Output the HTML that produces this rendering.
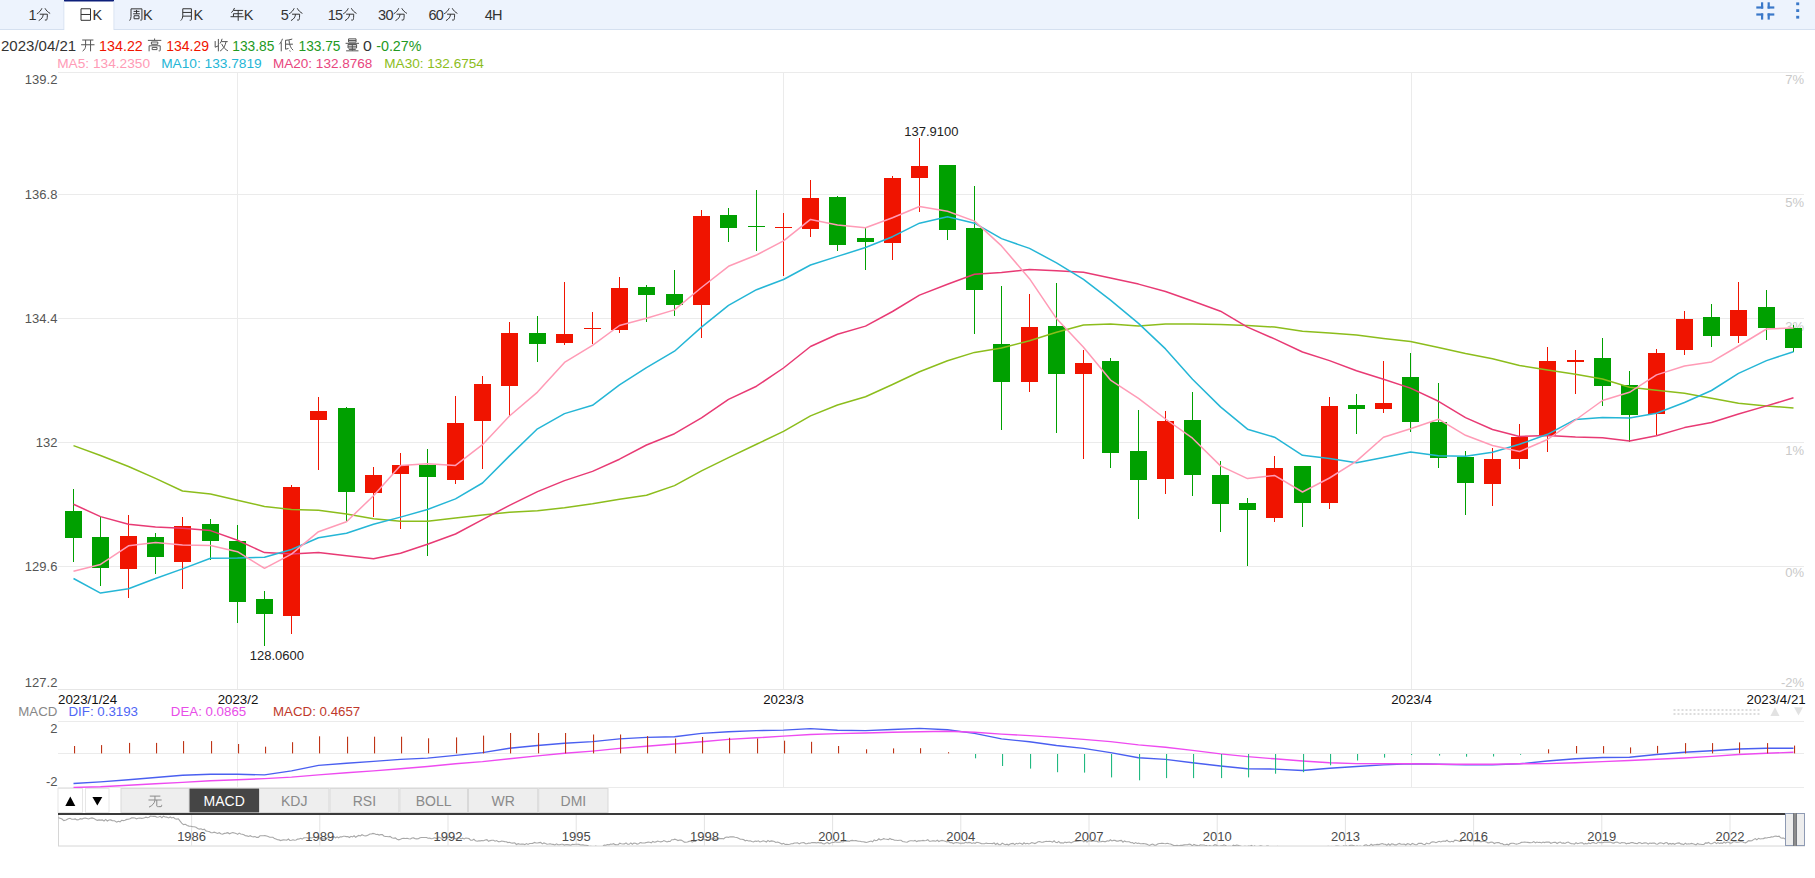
<!DOCTYPE html>
<html><head><meta charset="utf-8"><style>
html,body{margin:0;padding:0;background:#fff;}
body{width:1815px;height:878px;position:relative;overflow:hidden;font-family:"Liberation Sans",sans-serif;}
svg text{font-family:"Liberation Sans",sans-serif;}
</style></head><body>
<svg width="1815" height="878" viewBox="0 0 1815 878" style="position:absolute;left:0;top:0"><rect x="0" y="0" width="1815" height="29" fill="#edf3fd"/><rect x="0" y="29" width="1815" height="1" fill="#d5e0f0"/><rect x="64" y="0" width="50" height="31" fill="#ffffff"/><rect x="64" y="0" width="50" height="1.5" fill="#0d1f7a"/><rect x="63.5" y="1" width="0.8" height="29" fill="#d5e0f0"/><rect x="113.5" y="1" width="0.8" height="29" fill="#d5e0f0"/><text x="28.60" y="20.1" font-size="14.5" fill="#333">1</text><path transform="translate(35.90,7.40) scale(1.0800,0.9700)" d="M5.6,0.9 C4.6,3.2 3.2,5.2 0.9,6.6 M8.4,0.9 C9.6,3.3 11.2,5 13.2,6.2 M3.6,7 H10.6 C10.6,9.5 10.5,11.5 10.2,12.6 C10,13.1 9.3,13.2 8.3,13 M6.8,7 C6.6,10 5.4,12 2.6,13.6" fill="none" stroke="#333" stroke-width="1.0" vector-effect="non-scaling-stroke"/><path transform="translate(78.20,7.40) scale(1.0800,0.9700)" d="M2.6,1.4 H11.4 V13.3 M2.6,1.4 V13.3 H11.4 M2.6,7.3 H11.4" fill="none" stroke="#333" stroke-width="1.0" vector-effect="non-scaling-stroke"/><text x="92.50" y="20.1" font-size="14.5" fill="#333">K</text><path transform="translate(128.65,7.40) scale(1.0800,0.9700)" d="M2.2,1.5 V9.5 C2.2,11.2 1.7,12.4 0.9,13.6 M2.2,1.5 H12.3 V12.4 C12.3,13 12,13.2 10.8,13.1 M4.6,4.1 H10 M7.3,2.6 V6.6 M4.2,6.6 H10.4 M5,8.6 H9.6 V11.7 H5 Z" fill="none" stroke="#333" stroke-width="1.0" vector-effect="non-scaling-stroke"/><text x="142.95" y="20.1" font-size="14.5" fill="#333">K</text><path transform="translate(179.10,7.40) scale(1.0800,0.9700)" d="M3.4,1.4 V8.5 C3.4,10.5 2.8,12.2 1.5,13.6 M3.4,1.4 H11.4 V12.5 C11.4,13.1 11,13.3 9.8,13.2 M3.4,5.2 H11.4 M3.3,9 H11.4" fill="none" stroke="#333" stroke-width="1.0" vector-effect="non-scaling-stroke"/><text x="193.40" y="20.1" font-size="14.5" fill="#333">K</text><path transform="translate(229.55,7.40) scale(1.0800,0.9700)" d="M4.6,0.6 C4,2.4 3,4.2 1.7,5.4 M3.6,3.1 H12.6 M3.6,6.5 H11.8 M3.6,6.5 V9.6 M0.9,9.6 H13.1 M8,3.1 V13.8" fill="none" stroke="#333" stroke-width="1.0" vector-effect="non-scaling-stroke"/><text x="243.85" y="20.1" font-size="14.5" fill="#333">K</text><text x="280.85" y="20.1" font-size="14.5" fill="#333">5</text><path transform="translate(288.15,7.40) scale(1.0800,0.9700)" d="M5.6,0.9 C4.6,3.2 3.2,5.2 0.9,6.6 M8.4,0.9 C9.6,3.3 11.2,5 13.2,6.2 M3.6,7 H10.6 C10.6,9.5 10.5,11.5 10.2,12.6 C10,13.1 9.3,13.2 8.3,13 M6.8,7 C6.6,10 5.4,12 2.6,13.6" fill="none" stroke="#333" stroke-width="1.0" vector-effect="non-scaling-stroke"/><text x="327.65" y="20.1" font-size="14.5" fill="#333">1</text><text x="334.95" y="20.1" font-size="14.5" fill="#333">5</text><path transform="translate(342.25,7.40) scale(1.0800,0.9700)" d="M5.6,0.9 C4.6,3.2 3.2,5.2 0.9,6.6 M8.4,0.9 C9.6,3.3 11.2,5 13.2,6.2 M3.6,7 H10.6 C10.6,9.5 10.5,11.5 10.2,12.6 C10,13.1 9.3,13.2 8.3,13 M6.8,7 C6.6,10 5.4,12 2.6,13.6" fill="none" stroke="#333" stroke-width="1.0" vector-effect="non-scaling-stroke"/><text x="378.10" y="20.1" font-size="14.5" fill="#333">3</text><text x="385.40" y="20.1" font-size="14.5" fill="#333">0</text><path transform="translate(392.70,7.40) scale(1.0800,0.9700)" d="M5.6,0.9 C4.6,3.2 3.2,5.2 0.9,6.6 M8.4,0.9 C9.6,3.3 11.2,5 13.2,6.2 M3.6,7 H10.6 C10.6,9.5 10.5,11.5 10.2,12.6 C10,13.1 9.3,13.2 8.3,13 M6.8,7 C6.6,10 5.4,12 2.6,13.6" fill="none" stroke="#333" stroke-width="1.0" vector-effect="non-scaling-stroke"/><text x="428.55" y="20.1" font-size="14.5" fill="#333">6</text><text x="435.85" y="20.1" font-size="14.5" fill="#333">0</text><path transform="translate(443.15,7.40) scale(1.0800,0.9700)" d="M5.6,0.9 C4.6,3.2 3.2,5.2 0.9,6.6 M8.4,0.9 C9.6,3.3 11.2,5 13.2,6.2 M3.6,7 H10.6 C10.6,9.5 10.5,11.5 10.2,12.6 C10,13.1 9.3,13.2 8.3,13 M6.8,7 C6.6,10 5.4,12 2.6,13.6" fill="none" stroke="#333" stroke-width="1.0" vector-effect="non-scaling-stroke"/><text x="484.75" y="20.1" font-size="14.5" fill="#333">4</text><text x="492.05" y="20.1" font-size="14.5" fill="#333">H</text><g fill="#3a78c9"><rect x="1761" y="2.3" width="2.2" height="6.3"/><rect x="1756.3" y="6.4" width="6.9" height="2.2"/><rect x="1767.6" y="2.3" width="2.2" height="6.3"/><rect x="1767.6" y="6.4" width="6.7" height="2.2"/><rect x="1756.3" y="13.4" width="6.9" height="2.2"/><rect x="1761" y="13.4" width="2.2" height="6.2"/><rect x="1767.6" y="13.4" width="6.7" height="2.2"/><rect x="1767.6" y="13.4" width="2.2" height="6.2"/><rect x="1796.2" y="2.4" width="3" height="2.8"/><rect x="1796.2" y="9.2" width="3" height="2.8"/><rect x="1796.2" y="15.8" width="3" height="2.8"/></g><text x="1.0" y="51.2" font-size="15" fill="#333" textLength="75.1" lengthAdjust="spacingAndGlyphs">2023/04/21</text><path transform="translate(80.10,38.20) scale(1.1000,0.9500)" d="M1.9,1.9 H12.1 M0.9,6.9 H13.1 M5,1.9 V8 C5,10.3 4.2,12 2.3,13.6 M9.5,1.9 V13.8" fill="none" stroke="#555" stroke-width="1.0" vector-effect="non-scaling-stroke"/><text x="99.1" y="51.2" font-size="15" fill="#f01400" textLength="43.7" lengthAdjust="spacingAndGlyphs">134.22</text><path transform="translate(146.90,38.20) scale(1.1000,0.9500)" d="M7,0.3 V2.2 M0.9,2.3 H13.1 M4.1,4 H9.9 V6.4 H4.1 Z M2,8 V13.8 M2,8 H12.1 V12.9 C12.1,13.4 11.6,13.4 10.7,13.3 M4.8,9.7 H9.2 V12 H4.8 Z" fill="none" stroke="#555" stroke-width="1.0" vector-effect="non-scaling-stroke"/><text x="166.3" y="51.2" font-size="15" fill="#f01400" textLength="42.7" lengthAdjust="spacingAndGlyphs">134.29</text><path transform="translate(213.30,38.20) scale(1.1000,0.9500)" d="M4.6,0.8 V13.8 M1.7,3 V9.5 L4.6,8 M8,0.6 C7.6,2.6 7,4.3 6.1,5.6 M7.3,3.6 H13.1 M11.6,3.6 C10.8,8.2 9,11.6 6.2,13.5 M7.6,6 C9,9.5 11,12 13.3,13.3" fill="none" stroke="#555" stroke-width="1.0" vector-effect="non-scaling-stroke"/><text x="232.3" y="51.2" font-size="15" fill="#229922" textLength="42.1" lengthAdjust="spacingAndGlyphs">133.85</text><path transform="translate(278.40,38.20) scale(1.1000,0.9500)" d="M3.7,0.6 C3,3 2,5 0.8,6.4 M2.6,4.3 V13.8 M6.2,2.3 C8.4,2.1 10.6,1.6 12.6,0.9 M6.5,2.3 V11.6 L9.2,10.8 M6.5,6.3 H13.2 M9.6,2 C10,7 11.3,10.8 13.4,12.6 M10,13.1 L11,13.8" fill="none" stroke="#555" stroke-width="1.0" vector-effect="non-scaling-stroke"/><text x="298.5" y="51.2" font-size="15" fill="#229922" textLength="42.0" lengthAdjust="spacingAndGlyphs">133.75</text><path transform="translate(344.60,38.20) scale(1.1000,0.9500)" d="M3.6,0.7 H10.4 V4.1 H3.6 Z M3.6,2.4 H10.4 M0.9,5.4 H13.1 M3.1,6.6 H10.9 V10.3 H3.1 Z M3.1,8.45 H10.9 M7,6.6 V13.2 M3.9,11.8 H10.1 M1.4,13.3 H12.6" fill="none" stroke="#555" stroke-width="1.0" vector-effect="non-scaling-stroke"/><text x="362.9" y="51.2" font-size="15" fill="#333" textLength="8.8" lengthAdjust="spacingAndGlyphs">0</text><text x="376.2" y="51.2" font-size="15" fill="#229922" textLength="45.3" lengthAdjust="spacingAndGlyphs">-0.27%</text><text x="57.2" y="67.8" font-size="13.6" fill="#ff9bb6" textLength="92.8" lengthAdjust="spacingAndGlyphs">MA5: 134.2350</text><text x="161.2" y="67.8" font-size="13.6" fill="#25b6d6" textLength="100.5" lengthAdjust="spacingAndGlyphs">MA10: 133.7819</text><text x="272.9" y="67.8" font-size="13.6" fill="#e8467e" textLength="99.5" lengthAdjust="spacingAndGlyphs">MA20: 132.8768</text><text x="384.3" y="67.8" font-size="13.6" fill="#8cbd1c" textLength="99.5" lengthAdjust="spacingAndGlyphs">MA30: 132.6754</text><rect x="58" y="72" width="1746" height="1" fill="#ebebeb"/><rect x="58" y="194" width="1746" height="1" fill="#ebebeb"/><rect x="58" y="318" width="1746" height="1" fill="#ebebeb"/><rect x="58" y="442" width="1746" height="1" fill="#ebebeb"/><rect x="58" y="566" width="1746" height="1" fill="#ebebeb"/><rect x="58" y="689" width="1746" height="1" fill="#e6e6e6"/><rect x="237" y="72" width="1" height="617" fill="#ebebeb"/><rect x="237" y="721" width="1" height="67" fill="#ebebeb"/><rect x="783" y="72" width="1" height="617" fill="#ebebeb"/><rect x="783" y="721" width="1" height="67" fill="#ebebeb"/><rect x="1411" y="72" width="1" height="617" fill="#ebebeb"/><rect x="1411" y="721" width="1" height="67" fill="#ebebeb"/><text x="57.4" y="83.5" font-size="13" fill="#555" text-anchor="end">139.2</text><text x="57.4" y="199.2" font-size="13" fill="#555" text-anchor="end">136.8</text><text x="57.4" y="322.9" font-size="13" fill="#555" text-anchor="end">134.4</text><text x="57.4" y="446.6" font-size="13" fill="#555" text-anchor="end">132</text><text x="57.4" y="570.6" font-size="13" fill="#555" text-anchor="end">129.6</text><text x="57.4" y="687.4" font-size="13" fill="#555" text-anchor="end">127.2</text><text x="1804" y="84" font-size="13" fill="#c9c9c9" text-anchor="end">7%</text><text x="1804" y="207" font-size="13" fill="#c9c9c9" text-anchor="end">5%</text><text x="1804" y="331" font-size="13" fill="#c9c9c9" text-anchor="end">3%</text><text x="1804" y="455" font-size="13" fill="#c9c9c9" text-anchor="end">1%</text><text x="1804" y="577.3" font-size="13" fill="#c9c9c9" text-anchor="end">0%</text><text x="1804" y="687.4" font-size="13" fill="#c9c9c9" text-anchor="end">-2%</text><rect x="73" y="489" width="1" height="73" fill="#00a000"/><rect x="65" y="511" width="17" height="27" fill="#00a000"/><rect x="100" y="517" width="1" height="69" fill="#00a000"/><rect x="92" y="537" width="17" height="31" fill="#00a000"/><rect x="128" y="515" width="1" height="83" fill="#f01400"/><rect x="120" y="536" width="17" height="33" fill="#f01400"/><rect x="155" y="533" width="1" height="41" fill="#00a000"/><rect x="147" y="537" width="17" height="20" fill="#00a000"/><rect x="182" y="517" width="1" height="72" fill="#f01400"/><rect x="174" y="526" width="17" height="36" fill="#f01400"/><rect x="210" y="519" width="1" height="41" fill="#00a000"/><rect x="202" y="524" width="17" height="17" fill="#00a000"/><rect x="237" y="525" width="1" height="98" fill="#00a000"/><rect x="229" y="541" width="17" height="61" fill="#00a000"/><rect x="264" y="591" width="1" height="55" fill="#00a000"/><rect x="256" y="599" width="17" height="15" fill="#00a000"/><rect x="291" y="485" width="1" height="149" fill="#f01400"/><rect x="283" y="487" width="17" height="129" fill="#f01400"/><rect x="318" y="397" width="1" height="73" fill="#f01400"/><rect x="310" y="411" width="17" height="9" fill="#f01400"/><rect x="346" y="407" width="1" height="115" fill="#00a000"/><rect x="338" y="408" width="17" height="84" fill="#00a000"/><rect x="373" y="467" width="1" height="50" fill="#f01400"/><rect x="365" y="475" width="17" height="18" fill="#f01400"/><rect x="400" y="453" width="1" height="76" fill="#f01400"/><rect x="392" y="465" width="17" height="9" fill="#f01400"/><rect x="427" y="449" width="1" height="107" fill="#00a000"/><rect x="419" y="465" width="17" height="12" fill="#00a000"/><rect x="455" y="396" width="1" height="88" fill="#f01400"/><rect x="447" y="423" width="17" height="57" fill="#f01400"/><rect x="482" y="376" width="1" height="93" fill="#f01400"/><rect x="474" y="384" width="17" height="37" fill="#f01400"/><rect x="509" y="322" width="1" height="94" fill="#f01400"/><rect x="501" y="333" width="17" height="53" fill="#f01400"/><rect x="537" y="316" width="1" height="46" fill="#00a000"/><rect x="529" y="333" width="17" height="11" fill="#00a000"/><rect x="564" y="282" width="1" height="63" fill="#f01400"/><rect x="556" y="334" width="17" height="9" fill="#f01400"/><rect x="592" y="312" width="1" height="32" fill="#f01400"/><rect x="584" y="328" width="17" height="1" fill="#f01400"/><rect x="619" y="277" width="1" height="56" fill="#f01400"/><rect x="611" y="288" width="17" height="42" fill="#f01400"/><rect x="646" y="285" width="1" height="37" fill="#00a000"/><rect x="638" y="287" width="17" height="8" fill="#00a000"/><rect x="674" y="270" width="1" height="46" fill="#00a000"/><rect x="666" y="294" width="17" height="11" fill="#00a000"/><rect x="701" y="210" width="1" height="128" fill="#f01400"/><rect x="693" y="216" width="17" height="89" fill="#f01400"/><rect x="728" y="208" width="1" height="34" fill="#00a000"/><rect x="720" y="215" width="17" height="13" fill="#00a000"/><rect x="756" y="190" width="1" height="61" fill="#00a000"/><rect x="748" y="226" width="17" height="1" fill="#00a000"/><rect x="783" y="213" width="1" height="63" fill="#f01400"/><rect x="775" y="227" width="17" height="1" fill="#f01400"/><rect x="810" y="180" width="1" height="57" fill="#f01400"/><rect x="802" y="198" width="17" height="31" fill="#f01400"/><rect x="837" y="196" width="1" height="55" fill="#00a000"/><rect x="829" y="197" width="17" height="48" fill="#00a000"/><rect x="865" y="228" width="1" height="42" fill="#00a000"/><rect x="857" y="238" width="17" height="4" fill="#00a000"/><rect x="892" y="176" width="1" height="84" fill="#f01400"/><rect x="884" y="178" width="17" height="65" fill="#f01400"/><rect x="919" y="138" width="1" height="74" fill="#f01400"/><rect x="911" y="166" width="17" height="12" fill="#f01400"/><rect x="947" y="165" width="1" height="75" fill="#00a000"/><rect x="939" y="165" width="17" height="65" fill="#00a000"/><rect x="974" y="186" width="1" height="148" fill="#00a000"/><rect x="966" y="228" width="17" height="62" fill="#00a000"/><rect x="1001" y="286" width="1" height="144" fill="#00a000"/><rect x="993" y="344" width="17" height="38" fill="#00a000"/><rect x="1029" y="294" width="1" height="98" fill="#f01400"/><rect x="1021" y="327" width="17" height="55" fill="#f01400"/><rect x="1056" y="283" width="1" height="150" fill="#00a000"/><rect x="1048" y="326" width="17" height="48" fill="#00a000"/><rect x="1083" y="350" width="1" height="109" fill="#f01400"/><rect x="1075" y="363" width="17" height="11" fill="#f01400"/><rect x="1110" y="358" width="1" height="110" fill="#00a000"/><rect x="1102" y="361" width="17" height="92" fill="#00a000"/><rect x="1138" y="410" width="1" height="109" fill="#00a000"/><rect x="1130" y="451" width="17" height="29" fill="#00a000"/><rect x="1165" y="411" width="1" height="83" fill="#f01400"/><rect x="1157" y="421" width="17" height="58" fill="#f01400"/><rect x="1192" y="392" width="1" height="104" fill="#00a000"/><rect x="1184" y="420" width="17" height="55" fill="#00a000"/><rect x="1220" y="461" width="1" height="71" fill="#00a000"/><rect x="1212" y="475" width="17" height="29" fill="#00a000"/><rect x="1247" y="498" width="1" height="68" fill="#00a000"/><rect x="1239" y="503" width="17" height="7" fill="#00a000"/><rect x="1274" y="456" width="1" height="66" fill="#f01400"/><rect x="1266" y="468" width="17" height="50" fill="#f01400"/><rect x="1302" y="466" width="1" height="61" fill="#00a000"/><rect x="1294" y="466" width="17" height="37" fill="#00a000"/><rect x="1329" y="397" width="1" height="112" fill="#f01400"/><rect x="1321" y="406" width="17" height="97" fill="#f01400"/><rect x="1356" y="394" width="1" height="40" fill="#00a000"/><rect x="1348" y="405" width="17" height="4" fill="#00a000"/><rect x="1383" y="361" width="1" height="52" fill="#f01400"/><rect x="1375" y="403" width="17" height="6" fill="#f01400"/><rect x="1410" y="353" width="1" height="79" fill="#00a000"/><rect x="1402" y="377" width="17" height="45" fill="#00a000"/><rect x="1438" y="383" width="1" height="85" fill="#00a000"/><rect x="1430" y="422" width="17" height="36" fill="#00a000"/><rect x="1465" y="451" width="1" height="64" fill="#00a000"/><rect x="1457" y="457" width="17" height="26" fill="#00a000"/><rect x="1492" y="448" width="1" height="58" fill="#f01400"/><rect x="1484" y="459" width="17" height="25" fill="#f01400"/><rect x="1519" y="424" width="1" height="45" fill="#f01400"/><rect x="1511" y="437" width="17" height="22" fill="#f01400"/><rect x="1547" y="347" width="1" height="105" fill="#f01400"/><rect x="1539" y="361" width="17" height="74" fill="#f01400"/><rect x="1575" y="350" width="1" height="44" fill="#f01400"/><rect x="1567" y="360" width="17" height="2" fill="#f01400"/><rect x="1602" y="338" width="1" height="68" fill="#00a000"/><rect x="1594" y="358" width="17" height="28" fill="#00a000"/><rect x="1629" y="371" width="1" height="71" fill="#00a000"/><rect x="1621" y="385" width="17" height="30" fill="#00a000"/><rect x="1656" y="349" width="1" height="86" fill="#f01400"/><rect x="1648" y="353" width="17" height="61" fill="#f01400"/><rect x="1684" y="311" width="1" height="44" fill="#f01400"/><rect x="1676" y="319" width="17" height="31" fill="#f01400"/><rect x="1711" y="304" width="1" height="43" fill="#00a000"/><rect x="1703" y="317" width="17" height="19" fill="#00a000"/><rect x="1738" y="282" width="1" height="61" fill="#f01400"/><rect x="1730" y="310" width="17" height="26" fill="#f01400"/><rect x="1766" y="290" width="1" height="50" fill="#00a000"/><rect x="1758" y="307" width="17" height="21" fill="#00a000"/><rect x="1793" y="325" width="1" height="27" fill="#00a000"/><rect x="1785" y="328" width="17" height="20" fill="#00a000"/><polyline points="73.5,445.6 100.5,455.5 128.5,466.5 155.5,478.4 182.5,491.0 210.5,494.0 237.5,500.3 264.5,506.5 291.5,509.4 318.5,510.2 346.5,514.1 373.5,518.8 400.5,521.3 427.5,521.3 455.5,518.1 482.5,514.9 509.5,512.3 537.5,510.7 564.5,507.8 592.5,503.8 619.5,499.2 646.5,495.2 674.5,485.6 701.5,470.8 728.5,457.7 756.5,444.3 783.5,431.4 810.5,415.9 837.5,405.0 865.5,396.7 892.5,384.5 919.5,371.7 947.5,360.8 974.5,352.4 1001.5,348.0 1029.5,340.7 1056.5,332.3 1083.5,325.0 1110.5,324.0 1138.5,325.9 1165.5,324.0 1192.5,324.0 1220.5,324.6 1247.5,325.5 1274.5,327.1 1302.5,331.3 1329.5,332.9 1356.5,335.1 1383.5,338.4 1410.5,341.5 1438.5,347.5 1465.5,353.5 1492.5,358.7 1519.5,365.4 1547.5,370.1 1575.5,374.2 1602.5,379.0 1629.5,387.2 1656.5,390.2 1684.5,393.3 1711.5,398.2 1738.5,403.3 1766.5,405.9 1793.5,408.1" fill="none" stroke="#8cbd1c" stroke-width="1.5" stroke-linejoin="round"/><polyline points="73.5,504.3 100.5,516.6 128.5,524.2 155.5,527.1 182.5,528.2 210.5,530.6 237.5,540.3 264.5,552.6 291.5,554.1 318.5,552.6 346.5,555.7 373.5,558.7 400.5,553.2 427.5,544.2 455.5,534.0 482.5,519.7 509.5,505.3 537.5,491.6 564.5,480.6 592.5,471.4 619.5,459.2 646.5,445.0 674.5,433.7 701.5,417.9 728.5,399.4 756.5,386.2 783.5,368.0 810.5,346.5 837.5,334.3 865.5,326.1 892.5,311.5 919.5,295.1 947.5,284.2 974.5,274.3 1001.5,272.5 1029.5,269.6 1056.5,270.7 1083.5,272.3 1110.5,278.1 1138.5,284.1 1165.5,291.5 1192.5,301.0 1220.5,311.2 1247.5,327.1 1274.5,338.9 1302.5,352.0 1329.5,360.6 1356.5,370.8 1383.5,379.3 1410.5,388.1 1438.5,401.3 1465.5,417.6 1492.5,429.5 1519.5,436.5 1547.5,435.4 1575.5,437.0 1602.5,437.8 1629.5,441.1 1656.5,435.8 1684.5,427.6 1711.5,422.5 1738.5,414.0 1766.5,405.9 1793.5,397.8" fill="none" stroke="#e83a74" stroke-width="1.5" stroke-linejoin="round"/><polyline points="73.5,578.5 100.5,593.1 128.5,588.8 155.5,578.5 182.5,568.9 210.5,558.2 237.5,558.1 264.5,557.2 291.5,549.5 318.5,537.8 346.5,533.2 373.5,524.3 400.5,517.1 427.5,509.5 455.5,498.9 482.5,483.0 509.5,455.9 537.5,428.8 564.5,413.6 592.5,405.3 619.5,384.9 646.5,367.7 674.5,351.2 701.5,327.1 728.5,305.3 756.5,289.7 783.5,279.5 810.5,265.0 837.5,256.4 865.5,247.5 892.5,236.7 919.5,223.2 947.5,216.7 974.5,223.2 1001.5,238.6 1029.5,248.4 1056.5,262.8 1083.5,279.3 1110.5,300.1 1138.5,323.4 1165.5,348.9 1192.5,379.2 1220.5,406.9 1247.5,429.2 1274.5,437.2 1302.5,455.3 1329.5,458.5 1356.5,462.7 1383.5,457.5 1410.5,452.0 1438.5,455.8 1465.5,456.3 1492.5,452.2 1519.5,444.3 1547.5,434.3 1575.5,419.4 1602.5,417.5 1629.5,417.9 1656.5,413.2 1684.5,402.5 1711.5,390.5 1738.5,373.4 1766.5,360.6 1793.5,351.7" fill="none" stroke="#25b6d6" stroke-width="1.5" stroke-linejoin="round"/><polyline points="73.5,571.3 100.5,564.4 128.5,545.8 155.5,542.6 182.5,545.0 210.5,545.4 237.5,551.7 264.5,568.3 291.5,554.1 318.5,531.7 346.5,521.8 373.5,495.7 400.5,465.4 427.5,463.8 455.5,465.4 482.5,444.7 509.5,416.0 537.5,392.1 564.5,362.4 592.5,345.3 619.5,325.5 646.5,318.2 674.5,309.9 701.5,287.5 728.5,266.3 756.5,255.0 783.5,240.9 810.5,219.4 837.5,225.0 865.5,227.7 892.5,217.8 919.5,206.5 947.5,211.2 974.5,221.1 1001.5,245.9 1029.5,278.7 1056.5,318.6 1083.5,347.3 1110.5,380.1 1138.5,398.3 1165.5,419.0 1192.5,438.2 1220.5,465.9 1247.5,478.6 1274.5,475.4 1302.5,492.0 1329.5,478.0 1356.5,461.1 1383.5,437.2 1410.5,428.8 1438.5,419.2 1465.5,435.3 1492.5,445.5 1519.5,451.5 1547.5,439.5 1575.5,420.0 1602.5,400.5 1629.5,392.3 1656.5,374.9 1684.5,366.0 1711.5,361.9 1738.5,346.0 1766.5,329.0 1793.5,328.1" fill="none" stroke="#ff9bb6" stroke-width="1.5" stroke-linejoin="round"/><text x="249.8" y="659.5" font-size="13" fill="#222">128.0600</text><text x="904.3" y="136.4" font-size="13" fill="#222">137.9100</text><text x="58" y="703.5" font-size="13.3" fill="#111">2023/1/24</text><text x="238" y="703.5" font-size="13.3" fill="#111" text-anchor="middle">2023/2</text><text x="783.5" y="703.5" font-size="13.3" fill="#111" text-anchor="middle">2023/3</text><text x="1411.5" y="703.5" font-size="13.3" fill="#111" text-anchor="middle">2023/4</text><text x="1805.7" y="703.5" font-size="13.3" fill="#111" text-anchor="end">2023/4/21</text><text x="18.3" y="715.8" font-size="13.3" fill="#888">MACD</text><text x="68.5" y="715.8" font-size="13.3" fill="#4f66f5">DIF: 0.3193</text><text x="170.8" y="715.8" font-size="13.3" fill="#e84de8">DEA: 0.0865</text><text x="273" y="715.8" font-size="13.3" fill="#c0392b">MACD: 0.4657</text><g fill="#dddddd"><rect x="1673.5" y="709" width="2" height="2"/><rect x="1677.5" y="709" width="2" height="2"/><rect x="1681.5" y="709" width="2" height="2"/><rect x="1685.5" y="709" width="2" height="2"/><rect x="1689.5" y="709" width="2" height="2"/><rect x="1693.5" y="709" width="2" height="2"/><rect x="1697.5" y="709" width="2" height="2"/><rect x="1701.5" y="709" width="2" height="2"/><rect x="1705.5" y="709" width="2" height="2"/><rect x="1709.5" y="709" width="2" height="2"/><rect x="1713.5" y="709" width="2" height="2"/><rect x="1717.5" y="709" width="2" height="2"/><rect x="1721.5" y="709" width="2" height="2"/><rect x="1725.5" y="709" width="2" height="2"/><rect x="1729.5" y="709" width="2" height="2"/><rect x="1733.5" y="709" width="2" height="2"/><rect x="1737.5" y="709" width="2" height="2"/><rect x="1741.5" y="709" width="2" height="2"/><rect x="1745.5" y="709" width="2" height="2"/><rect x="1749.5" y="709" width="2" height="2"/><rect x="1753.5" y="709" width="2" height="2"/><rect x="1757.5" y="709" width="2" height="2"/><rect x="1673.5" y="713" width="2" height="2"/><rect x="1677.5" y="713" width="2" height="2"/><rect x="1681.5" y="713" width="2" height="2"/><rect x="1685.5" y="713" width="2" height="2"/><rect x="1689.5" y="713" width="2" height="2"/><rect x="1693.5" y="713" width="2" height="2"/><rect x="1697.5" y="713" width="2" height="2"/><rect x="1701.5" y="713" width="2" height="2"/><rect x="1705.5" y="713" width="2" height="2"/><rect x="1709.5" y="713" width="2" height="2"/><rect x="1713.5" y="713" width="2" height="2"/><rect x="1717.5" y="713" width="2" height="2"/><rect x="1721.5" y="713" width="2" height="2"/><rect x="1725.5" y="713" width="2" height="2"/><rect x="1729.5" y="713" width="2" height="2"/><rect x="1733.5" y="713" width="2" height="2"/><rect x="1737.5" y="713" width="2" height="2"/><rect x="1741.5" y="713" width="2" height="2"/><rect x="1745.5" y="713" width="2" height="2"/><rect x="1749.5" y="713" width="2" height="2"/><rect x="1753.5" y="713" width="2" height="2"/><rect x="1757.5" y="713" width="2" height="2"/></g><path d="M1770.4,716 L1775,707.2 L1779.5,716 Z" fill="#e2e2e2"/><path d="M1794,707.2 L1803,707.2 L1798.5,715.6 Z" fill="#e2e2e2"/><rect x="58" y="721" width="1746" height="1" fill="#ebebeb"/><rect x="58" y="753" width="1746" height="1" fill="#ebebeb"/><rect x="58" y="787" width="1746" height="1" fill="#ebebeb"/><text x="57.5" y="733" font-size="13" fill="#555" text-anchor="end">2</text><text x="57.5" y="785.5" font-size="13" fill="#555" text-anchor="end">-2</text><clipPath id="mc"><rect x="58" y="721" width="1746" height="67"/></clipPath><g clip-path="url(#mc)"><polyline points="73.5,783.5 100.5,781.9 128.5,779.7 155.5,777.5 182.5,775.3 210.5,774.2 237.5,774.2 264.5,774.9 291.5,770.9 318.5,765.4 346.5,763.2 373.5,761.4 400.5,759.4 427.5,758.1 455.5,755.4 482.5,752.6 509.5,748.2 537.5,745.5 564.5,743.3 592.5,741.6 619.5,738.9 646.5,737.4 674.5,736.7 701.5,733.4 728.5,731.7 756.5,730.6 783.5,730.1 810.5,728.6 837.5,730.3 865.5,730.6 892.5,729.5 919.5,728.4 947.5,729.7 974.5,733.4 1001.5,738.9 1029.5,741.8 1056.5,745.5 1083.5,748.4 1110.5,752.6 1138.5,757.7 1165.5,759.4 1192.5,762.7 1220.5,766.0 1247.5,768.7 1274.5,769.1 1302.5,770.5 1329.5,768.2 1356.5,766.5 1383.5,764.9 1410.5,763.8 1438.5,764.3 1465.5,764.9 1492.5,764.9 1519.5,763.8 1547.5,761.0 1575.5,758.8 1602.5,757.5 1629.5,757.3 1656.5,754.5 1684.5,752.3 1711.5,750.8 1738.5,749.0 1766.5,748.3 1793.5,748.3" fill="none" stroke="#4a5ff0" stroke-width="1.4" stroke-linejoin="round"/><polyline points="73.5,787.4 100.5,786.8 128.5,785.2 155.5,783.7 182.5,782.4 210.5,780.8 237.5,779.7 264.5,778.6 291.5,777.1 318.5,774.9 346.5,772.7 373.5,770.9 400.5,768.7 427.5,766.5 455.5,763.7 482.5,761.6 509.5,758.8 537.5,755.9 564.5,753.3 592.5,751.1 619.5,748.4 646.5,746.2 674.5,744.0 701.5,741.8 728.5,739.4 756.5,737.8 783.5,736.1 810.5,734.5 837.5,733.6 865.5,733.0 892.5,732.3 919.5,731.7 947.5,731.2 974.5,732.3 1001.5,734.1 1029.5,735.6 1056.5,737.4 1083.5,739.4 1110.5,741.6 1138.5,744.9 1165.5,747.3 1192.5,750.4 1220.5,753.9 1247.5,756.6 1274.5,758.8 1302.5,761.0 1329.5,762.7 1356.5,763.6 1383.5,763.8 1410.5,763.8 1438.5,764.3 1465.5,764.3 1492.5,764.3 1519.5,763.8 1547.5,763.6 1575.5,762.7 1602.5,761.6 1629.5,760.5 1656.5,759.3 1684.5,758.0 1711.5,756.4 1738.5,754.5 1766.5,753.3 1793.5,752.3" fill="none" stroke="#ee4bf0" stroke-width="1.4" stroke-linejoin="round"/></g><rect x="74" y="746.0" width="1.1" height="7.4" fill="#bf3517"/><rect x="101" y="745.1" width="1.1" height="8.3" fill="#bf3517"/><rect x="129" y="742.9" width="1.1" height="10.5" fill="#bf3517"/><rect x="156" y="742.9" width="1.1" height="10.5" fill="#bf3517"/><rect x="183" y="741.1" width="1.1" height="12.3" fill="#bf3517"/><rect x="211" y="741.1" width="1.1" height="12.3" fill="#bf3517"/><rect x="238" y="744.0" width="1.1" height="9.4" fill="#bf3517"/><rect x="265" y="746.7" width="1.1" height="6.7" fill="#bf3517"/><rect x="292" y="742.2" width="1.1" height="11.2" fill="#bf3517"/><rect x="319" y="736.3" width="1.1" height="17.1" fill="#bf3517"/><rect x="347" y="736.7" width="1.1" height="16.7" fill="#bf3517"/><rect x="374" y="736.7" width="1.1" height="16.7" fill="#bf3517"/><rect x="401" y="736.7" width="1.1" height="16.7" fill="#bf3517"/><rect x="428" y="738.3" width="1.1" height="15.1" fill="#bf3517"/><rect x="456" y="737.4" width="1.1" height="16.0" fill="#bf3517"/><rect x="483" y="735.6" width="1.1" height="17.8" fill="#bf3517"/><rect x="510" y="733.0" width="1.1" height="20.4" fill="#bf3517"/><rect x="538" y="733.0" width="1.1" height="20.4" fill="#bf3517"/><rect x="565" y="733.0" width="1.1" height="20.4" fill="#bf3517"/><rect x="593" y="734.5" width="1.1" height="18.9" fill="#bf3517"/><rect x="620" y="734.5" width="1.1" height="18.9" fill="#bf3517"/><rect x="647" y="736.1" width="1.1" height="17.3" fill="#bf3517"/><rect x="675" y="738.5" width="1.1" height="14.9" fill="#bf3517"/><rect x="702" y="737.0" width="1.1" height="16.4" fill="#bf3517"/><rect x="729" y="737.8" width="1.1" height="15.6" fill="#bf3517"/><rect x="757" y="738.5" width="1.1" height="14.9" fill="#bf3517"/><rect x="784" y="740.7" width="1.1" height="12.7" fill="#bf3517"/><rect x="811" y="741.8" width="1.1" height="11.6" fill="#bf3517"/><rect x="838" y="746.0" width="1.1" height="7.4" fill="#bf3517"/><rect x="866" y="749.3" width="1.1" height="4.1" fill="#bf3517"/><rect x="893" y="748.4" width="1.1" height="5.0" fill="#bf3517"/><rect x="920" y="748.2" width="1.1" height="5.2" fill="#bf3517"/><rect x="948" y="752.2" width="1.1" height="1.2" fill="#bf3517"/><rect x="975" y="754.0" width="1.1" height="4.3" fill="#22b981"/><rect x="1002" y="754.0" width="1.1" height="12.0" fill="#22b981"/><rect x="1030" y="754.0" width="1.1" height="14.6" fill="#22b981"/><rect x="1057" y="754.0" width="1.1" height="18.2" fill="#22b981"/><rect x="1084" y="754.0" width="1.1" height="18.6" fill="#22b981"/><rect x="1111" y="754.0" width="1.1" height="23.4" fill="#22b981"/><rect x="1139" y="754.0" width="1.1" height="26.3" fill="#22b981"/><rect x="1166" y="754.0" width="1.1" height="24.1" fill="#22b981"/><rect x="1193" y="754.0" width="1.1" height="24.1" fill="#22b981"/><rect x="1221" y="754.0" width="1.1" height="24.1" fill="#22b981"/><rect x="1248" y="754.0" width="1.1" height="23.4" fill="#22b981"/><rect x="1275" y="754.0" width="1.1" height="19.7" fill="#22b981"/><rect x="1303" y="754.0" width="1.1" height="18.2" fill="#22b981"/><rect x="1330" y="754.0" width="1.1" height="11.3" fill="#22b981"/><rect x="1357" y="754.0" width="1.1" height="6.5" fill="#22b981"/><rect x="1384" y="754.0" width="1.1" height="3.6" fill="#22b981"/><rect x="1411" y="754.0" width="1.1" height="1.0" fill="#22b981"/><rect x="1439" y="754.0" width="1.1" height="1.6" fill="#22b981"/><rect x="1466" y="754.0" width="1.1" height="2.7" fill="#22b981"/><rect x="1493" y="754.0" width="1.1" height="2.5" fill="#22b981"/><rect x="1520" y="754.0" width="1.1" height="0.8" fill="#22b981"/><rect x="1548" y="749.3" width="1.1" height="4.1" fill="#bf3517"/><rect x="1576" y="746.0" width="1.1" height="7.4" fill="#bf3517"/><rect x="1603" y="746.1" width="1.1" height="7.3" fill="#bf3517"/><rect x="1630" y="747.4" width="1.1" height="6.0" fill="#bf3517"/><rect x="1657" y="745.9" width="1.1" height="7.5" fill="#bf3517"/><rect x="1685" y="743.1" width="1.1" height="10.3" fill="#bf3517"/><rect x="1712" y="743.1" width="1.1" height="10.3" fill="#bf3517"/><rect x="1739" y="742.4" width="1.1" height="11.0" fill="#bf3517"/><rect x="1767" y="743.1" width="1.1" height="10.3" fill="#bf3517"/><rect x="1794" y="745.6" width="1.1" height="7.8" fill="#bf3517"/><rect x="58" y="788.5" width="24.5" height="24" fill="#fff" stroke="#e6e6e6" stroke-width="1"/><rect x="85.5" y="788.5" width="23.5" height="24" fill="#fff" stroke="#e6e6e6" stroke-width="1"/><path d="M65.3,806 L70.3,796.6 L75.3,806 Z" fill="#000"/><path d="M92.4,796.9 L102.3,796.9 L97.35,805.5 Z" fill="#000"/><rect x="121.0" y="788.5" width="68.0" height="24" fill="#eeeeee" stroke="#d9d9d9" stroke-width="1"/><path transform="translate(147.50,794.20) scale(1.0800,0.9500)" d="M2.1,2 H11.9 M0.9,6.1 H13.1 M6.9,2 V6.6 C6.4,9.6 4.6,12 1.4,13.6 M8.6,6.1 V12.3 C8.6,12.9 9,13.1 10,13.1 H12.5 C13,13.1 13.1,12.6 13.1,11.2" fill="none" stroke="#8a8a8a" stroke-width="1.0" vector-effect="non-scaling-stroke"/><rect x="189.5" y="788.5" width="69.5" height="24" fill="#454545"/><text x="224.2" y="806" font-size="14" fill="#fff" text-anchor="middle">MACD</text><rect x="259.5" y="788.5" width="69.5" height="24" fill="#eeeeee" stroke="#d9d9d9" stroke-width="1"/><text x="294.2" y="806" font-size="14" fill="#8a8a8a" text-anchor="middle">KDJ</text><rect x="330.0" y="788.5" width="68.89999999999998" height="24" fill="#eeeeee" stroke="#d9d9d9" stroke-width="1"/><text x="364.4" y="806" font-size="14" fill="#8a8a8a" text-anchor="middle">RSI</text><rect x="399.9" y="788.5" width="67.60000000000002" height="24" fill="#eeeeee" stroke="#d9d9d9" stroke-width="1"/><text x="433.7" y="806" font-size="14" fill="#8a8a8a" text-anchor="middle">BOLL</text><rect x="468.5" y="788.5" width="69.20000000000005" height="24" fill="#eeeeee" stroke="#d9d9d9" stroke-width="1"/><text x="503.1" y="806" font-size="14" fill="#8a8a8a" text-anchor="middle">WR</text><rect x="538.7" y="788.5" width="69.29999999999995" height="24" fill="#eeeeee" stroke="#d9d9d9" stroke-width="1"/><text x="573.4" y="806" font-size="14" fill="#8a8a8a" text-anchor="middle">DMI</text><rect x="58.5" y="814" width="1746" height="32" fill="#fff" stroke="#d6d6d6" stroke-width="1"/><rect x="191.1" y="815" width="1" height="31" fill="#e3e3e3"/><rect x="319.3" y="815" width="1" height="31" fill="#e3e3e3"/><rect x="447.5" y="815" width="1" height="31" fill="#e3e3e3"/><rect x="575.7" y="815" width="1" height="31" fill="#e3e3e3"/><rect x="703.9" y="815" width="1" height="31" fill="#e3e3e3"/><rect x="832.1" y="815" width="1" height="31" fill="#e3e3e3"/><rect x="960.3" y="815" width="1" height="31" fill="#e3e3e3"/><rect x="1088.5" y="815" width="1" height="31" fill="#e3e3e3"/><rect x="1216.7" y="815" width="1" height="31" fill="#e3e3e3"/><rect x="1344.9" y="815" width="1" height="31" fill="#e3e3e3"/><rect x="1473.1" y="815" width="1" height="31" fill="#e3e3e3"/><rect x="1601.3" y="815" width="1" height="31" fill="#e3e3e3"/><rect x="1729.5" y="815" width="1" height="31" fill="#e3e3e3"/><clipPath id="nc"><rect x="58" y="815" width="1728" height="31"/></clipPath><polyline clip-path="url(#nc)" points="58.3,817.7 60.1,818.3 62.0,819.0 63.8,820.6 66.0,820.0 68.2,818.8 70.0,818.3 71.7,819.3 73.5,819.2 75.2,818.9 77.0,819.9 78.7,819.7 80.3,818.6 82.0,819.1 83.7,818.3 85.3,818.1 87.0,818.5 88.6,819.0 90.3,818.2 92.0,817.9 93.8,818.4 95.5,819.4 97.3,820.4 99.0,819.9 100.7,820.1 102.3,819.9 104.0,821.0 105.7,819.4 107.3,821.0 109.0,820.0 110.6,819.9 112.3,820.6 114.5,820.7 116.7,822.1 118.4,821.3 120.0,821.8 121.7,820.3 123.3,820.6 125.0,820.3 126.7,819.4 128.3,819.3 130.0,818.8 131.6,817.9 133.2,817.9 134.9,818.0 136.5,818.8 138.1,818.3 139.8,818.0 141.4,818.4 143.0,818.2 144.5,817.8 146.0,817.2 147.5,817.7 149.0,817.2 150.5,816.1 152.0,816.2 153.7,816.4 155.3,816.4 156.9,817.2 158.6,817.0 160.2,816.3 161.9,817.7 163.5,816.2 165.2,817.0 166.8,817.1 168.5,817.9 170.2,817.0 171.8,817.9 173.4,817.3 175.1,818.7 176.8,819.1 178.4,818.8 180.1,821.1 181.7,823.2 183.5,824.6 185.4,824.3 187.2,825.4 189.0,826.1 190.7,826.3 192.5,826.6 194.2,826.8 196.0,827.2 197.7,828.4 199.3,829.1 201.0,828.8 202.7,829.7 204.3,829.2 206.0,830.9 207.6,831.3 209.3,831.6 211.0,832.8 212.6,832.8 214.2,832.2 215.9,832.7 217.6,833.5 219.2,832.7 220.8,833.8 222.5,834.2 224.3,833.4 226.0,833.1 227.8,832.7 229.5,833.8 231.3,833.1 232.9,832.6 234.4,833.0 236.0,833.4 237.6,834.4 239.2,833.1 240.7,834.0 242.3,834.2 243.9,834.7 245.4,835.7 247.0,835.9 248.6,836.4 250.2,835.7 251.7,836.4 253.3,836.9 255.0,836.5 256.6,837.4 258.3,837.4 260.0,835.8 261.6,835.8 263.3,835.7 264.9,835.6 266.6,836.0 268.2,836.5 269.7,837.2 271.3,837.2 272.9,837.3 274.5,838.6 276.0,839.0 277.6,839.8 279.1,839.9 280.7,840.6 282.2,840.1 283.8,839.8 285.3,840.0 286.8,840.1 288.4,839.0 289.9,840.5 291.5,840.3 293.0,839.8 294.5,840.3 296.1,840.0 297.6,839.1 299.2,839.0 300.7,838.3 302.2,839.1 303.8,837.9 305.3,837.7 306.9,837.8 308.4,838.2 310.0,837.6 311.6,838.0 313.2,837.5 314.8,837.4 316.4,837.8 318.0,837.7 319.6,838.2 321.2,837.6 322.8,839.2 324.4,838.8 326.0,838.6 327.6,837.7 329.2,837.7 330.8,837.6 332.3,837.4 333.9,836.7 335.5,837.8 337.1,836.9 338.6,837.8 340.2,836.8 341.7,836.9 343.3,836.2 344.8,836.2 346.3,836.6 347.9,836.5 349.4,837.5 351.0,836.3 352.5,836.9 354.1,835.8 355.7,837.3 357.2,836.3 358.8,835.4 360.4,835.9 362.0,834.7 363.6,835.4 365.1,836.0 366.7,835.6 368.3,835.0 369.9,834.0 371.4,834.0 373.0,833.4 374.6,833.8 376.1,834.5 377.7,834.4 379.2,835.1 380.8,834.5 382.3,834.6 383.8,835.9 385.4,836.5 386.9,836.5 388.5,836.7 390.0,836.4 391.8,837.7 393.5,838.2 395.3,837.9 397.0,839.2 398.8,839.8 400.4,839.3 402.1,838.5 403.8,838.3 405.4,838.5 407.1,838.2 408.7,838.8 410.4,839.0 412.0,838.0 413.6,837.9 415.2,838.8 416.8,838.9 418.4,838.8 420.0,837.8 421.7,837.5 423.3,837.5 424.9,837.5 426.5,837.5 428.1,838.2 429.7,838.0 431.2,838.7 432.8,838.5 434.3,837.8 435.8,838.1 437.4,838.3 438.9,837.0 440.4,837.9 441.9,838.3 443.5,838.1 445.0,837.5 446.6,838.0 448.2,837.6 449.8,837.1 451.4,838.3 453.0,837.5 454.6,838.4 456.2,838.8 457.8,837.8 459.4,837.9 461.0,838.9 462.6,838.2 464.2,838.9 465.8,838.1 467.4,838.3 469.0,838.6 470.6,840.2 472.3,840.2 473.9,839.3 475.5,840.8 477.1,841.3 478.7,840.9 480.3,840.9 481.9,840.5 483.6,840.8 485.2,840.0 486.9,839.7 488.6,841.3 490.2,840.6 491.9,840.3 493.5,840.2 495.1,841.2 496.7,840.6 498.3,841.6 499.9,841.8 501.5,841.0 503.1,841.3 504.7,841.6 506.3,841.8 507.9,842.6 509.5,842.3 511.1,843.0 512.9,843.1 514.7,842.8 516.4,844.5 518.2,843.7 520.0,844.2 521.6,844.0 523.2,844.1 524.8,844.6 526.4,843.6 528.0,844.4 529.6,843.5 531.2,843.5 532.8,843.4 534.4,842.4 536.0,843.0 537.6,843.0 539.2,842.6 540.7,842.4 542.3,843.9 543.9,842.9 545.5,843.6 547.0,844.2 548.6,844.0 550.2,843.7 551.7,844.2 553.3,844.4 554.9,844.9 556.5,843.8 558.0,844.8 559.6,844.8 561.2,844.3 562.8,844.3 564.4,845.1 566.0,844.6 567.6,844.6 569.2,844.9 570.8,845.2 572.4,844.3 574.0,844.5 575.6,844.3 577.2,844.2 579.0,844.4 580.7,845.0 582.5,844.8 584.2,845.1 586.0,845.3 587.6,845.5 589.2,846.5 590.9,846.3 592.5,846.8 594.1,847.2 595.8,846.1 597.4,846.9 599.0,847.0 600.7,847.4 602.5,846.8 604.2,845.1 605.9,845.3 607.4,844.5 609.0,844.9 610.5,844.1 612.1,844.2 613.6,843.7 615.1,844.6 616.7,844.7 618.2,844.7 619.8,843.2 621.3,843.7 622.9,844.0 624.5,843.9 626.0,842.9 627.6,844.2 629.2,844.3 630.8,842.9 632.3,844.2 633.9,843.1 635.5,843.2 637.1,844.1 638.7,843.7 640.2,842.5 641.8,842.9 643.4,843.0 645.0,842.9 646.5,842.5 648.1,842.1 649.7,842.2 651.3,842.8 652.8,841.4 654.4,842.2 656.0,841.9 657.5,841.0 659.1,841.5 660.7,841.9 662.3,841.6 663.8,840.6 665.4,841.3 667.0,842.0 668.5,841.4 670.1,841.5 671.7,839.7 673.3,839.8 674.8,839.2 676.4,839.8 678.0,840.6 679.5,840.0 681.1,840.1 682.7,840.9 684.3,842.1 685.8,842.3 687.4,842.0 689.0,841.4 690.6,841.0 692.2,842.2 693.8,841.3 695.4,841.4 697.0,840.1 698.6,839.8 700.2,840.7 701.8,840.1 703.4,839.2 705.0,839.8 706.5,840.5 708.1,839.8 709.6,840.0 711.2,838.6 712.8,839.8 714.3,838.3 715.9,839.6 717.4,838.8 719.0,838.4 720.5,838.6 722.1,838.5 723.6,838.9 725.2,837.5 726.8,837.0 728.4,837.4 729.9,836.7 731.5,836.9 733.3,836.7 735.0,837.3 736.8,837.5 738.5,838.3 740.3,839.3 741.9,839.3 743.6,839.6 745.2,840.8 746.9,840.3 748.5,841.0 750.2,840.7 751.9,841.4 753.5,842.0 755.1,841.0 756.7,841.4 758.3,840.8 759.9,842.0 761.5,841.6 763.2,840.8 764.8,841.3 766.4,842.0 768.0,840.4 769.6,841.6 771.2,840.9 772.7,841.1 774.3,841.6 775.8,842.5 777.4,842.0 778.9,842.6 780.4,843.2 782.0,844.1 783.5,843.3 785.1,844.5 786.6,844.2 788.2,844.5 789.7,844.3 791.3,843.8 792.9,843.6 794.5,843.0 796.0,843.0 797.6,842.8 799.2,843.9 800.7,843.0 802.3,842.7 803.9,842.5 805.5,843.8 807.0,843.8 808.6,843.0 810.2,843.3 811.8,842.6 813.3,842.5 814.9,842.6 816.5,842.9 818.1,842.4 819.7,842.9 821.2,842.6 822.8,843.8 824.4,843.9 826.0,843.1 827.5,842.5 829.1,843.8 830.7,843.0 832.2,842.5 833.8,842.5 835.3,841.7 836.9,842.3 838.4,842.3 840.0,842.3 841.5,841.6 843.1,842.0 844.6,841.0 846.2,841.3 847.7,840.9 849.3,841.3 850.8,840.6 852.4,840.4 853.9,840.8 855.5,840.5 857.0,840.9 858.6,841.2 860.1,841.3 861.7,841.8 863.3,841.8 864.9,842.1 866.4,842.5 868.0,842.0 869.5,841.5 871.1,841.0 872.6,841.9 874.2,840.0 875.8,840.7 877.3,840.2 878.9,838.8 880.4,839.9 882.0,839.6 883.5,838.6 885.1,839.0 886.7,839.3 888.3,839.6 889.9,838.5 891.5,839.4 893.0,839.5 894.6,840.2 896.2,840.3 897.8,840.5 899.4,840.2 901.0,840.2 902.5,841.5 904.0,841.7 905.5,842.0 907.1,842.2 908.7,841.2 910.3,840.7 911.9,840.8 913.5,841.0 915.0,840.4 916.6,841.6 918.2,840.9 919.8,840.9 921.4,840.8 923.0,840.4 924.6,840.8 926.2,840.5 927.8,839.7 929.3,841.2 930.9,841.2 932.5,840.8 934.1,840.9 935.7,841.2 937.3,840.2 938.9,841.5 940.4,840.7 942.0,840.4 943.6,840.8 945.2,841.3 946.9,842.0 948.5,841.4 950.1,842.7 951.8,842.6 953.3,843.5 954.9,842.7 956.4,842.5 958.0,842.7 959.5,843.1 961.0,843.3 962.6,843.1 964.1,843.2 965.7,842.2 967.2,843.0 968.8,842.4 970.4,842.6 971.9,843.5 973.5,842.8 975.1,843.3 976.7,842.3 978.2,842.5 979.8,842.9 981.4,843.6 983.0,843.7 984.6,843.7 986.1,843.1 987.7,843.5 989.3,843.5 990.9,843.5 992.5,843.6 994.1,843.0 995.7,844.5 997.3,843.3 999.0,844.7 1000.6,844.7 1002.2,843.1 1003.8,844.0 1005.4,844.7 1007.0,844.2 1008.5,845.0 1010.1,844.0 1011.6,843.6 1013.2,843.4 1014.7,844.6 1016.3,843.3 1017.8,843.9 1019.4,843.0 1020.9,843.6 1022.5,844.3 1024.0,842.8 1025.6,843.9 1027.1,843.3 1028.7,843.9 1030.2,843.5 1031.8,842.6 1033.3,843.0 1034.9,843.6 1036.5,842.7 1038.1,841.7 1039.7,841.6 1041.3,842.3 1043.0,842.1 1044.6,841.7 1046.2,841.3 1047.8,841.5 1049.4,841.3 1051.0,841.5 1052.5,842.2 1054.1,840.8 1055.6,842.3 1057.2,842.6 1058.7,841.4 1060.2,842.9 1061.8,842.7 1063.3,843.1 1064.9,842.1 1066.4,842.6 1068.0,842.2 1069.5,842.0 1071.1,842.9 1072.7,842.0 1074.3,841.4 1075.8,841.4 1077.4,841.3 1079.0,840.9 1080.6,840.5 1082.2,840.6 1083.8,841.9 1085.4,840.9 1087.0,842.1 1088.6,840.8 1090.2,840.9 1091.8,841.3 1093.4,840.7 1095.0,841.3 1096.5,841.0 1098.1,842.0 1099.6,841.8 1101.2,841.6 1102.7,841.2 1104.2,841.6 1105.8,841.6 1107.3,840.8 1108.8,841.1 1110.4,839.8 1111.9,841.0 1113.5,840.4 1115.0,840.4 1116.6,841.1 1118.2,841.1 1119.8,840.6 1121.4,840.4 1123.0,842.2 1124.5,840.9 1126.1,841.7 1127.7,841.7 1129.3,841.8 1130.9,842.8 1132.5,842.6 1134.0,843.7 1135.6,842.6 1137.2,843.5 1138.7,843.1 1140.2,843.8 1141.8,843.7 1143.3,843.5 1144.9,843.8 1146.5,844.1 1148.0,844.8 1149.6,845.4 1151.2,844.6 1152.8,844.0 1154.4,845.1 1156.0,845.2 1157.6,844.1 1159.2,843.5 1160.8,843.4 1162.4,843.2 1164.0,843.5 1165.6,843.7 1167.2,843.2 1168.9,843.7 1170.5,844.0 1172.2,844.8 1173.8,845.6 1175.5,845.6 1177.1,845.3 1178.8,845.7 1180.6,845.4 1182.3,845.4 1184.1,844.9 1185.8,844.7 1187.6,844.8 1189.2,844.1 1190.8,844.5 1192.3,845.8 1193.9,844.4 1195.5,845.1 1197.1,845.4 1198.7,845.9 1200.2,844.8 1201.8,845.0 1203.4,845.0 1205.0,845.3 1206.5,845.5 1208.1,846.5 1209.7,845.7 1211.3,846.3 1212.9,846.4 1214.4,844.8 1216.0,844.9 1217.6,846.1 1219.2,846.4 1220.8,845.7 1222.3,845.9 1223.9,844.8 1225.5,845.5 1227.1,846.5 1228.7,846.3 1230.3,846.3 1231.8,846.6 1233.4,845.2 1235.0,845.7 1236.5,845.0 1238.0,845.2 1239.5,845.9 1241.0,846.2 1242.6,846.8 1244.1,846.4 1245.6,846.3 1247.1,846.6 1248.6,846.1 1250.1,846.3 1251.6,845.5 1253.1,846.8 1254.7,845.9 1256.2,847.2 1257.7,846.8 1259.2,846.2 1260.7,845.9 1262.2,846.2 1263.7,847.0 1265.2,847.1 1266.7,846.1 1268.3,846.1 1269.8,847.0 1271.3,847.1 1272.8,846.8 1274.3,846.6 1275.8,847.3 1277.3,846.3 1278.8,846.9 1280.3,847.2 1281.9,848.2 1283.4,847.7 1284.9,848.2 1286.4,847.5 1287.9,847.1 1289.4,847.2 1290.9,848.5 1292.4,848.1 1294.0,847.4 1295.5,847.0 1297.0,847.9 1298.5,848.3 1300.0,848.0 1301.5,847.8 1303.0,847.5 1304.5,848.1 1306.0,848.5 1307.5,847.2 1309.0,846.8 1310.5,847.3 1312.0,847.4 1313.5,847.8 1315.0,846.9 1316.5,847.9 1318.0,847.8 1319.5,847.3 1321.0,846.7 1322.5,848.0 1324.0,846.8 1325.5,847.6 1327.0,846.5 1328.5,846.4 1330.0,847.4 1331.5,846.5 1333.0,847.6 1334.5,846.7 1336.0,846.1 1337.5,846.1 1339.0,846.4 1340.5,846.8 1342.0,847.3 1343.5,845.8 1345.0,846.2 1346.5,845.8 1348.0,847.1 1349.5,845.5 1351.0,845.3 1352.5,845.3 1354.0,845.8 1355.5,846.7 1357.0,845.9 1358.6,846.5 1360.1,846.1 1361.7,846.5 1363.3,846.3 1364.9,845.1 1366.4,844.8 1368.0,846.0 1369.6,845.6 1371.1,844.2 1372.7,845.3 1374.3,844.7 1375.9,844.6 1377.4,844.4 1379.0,844.6 1380.6,844.0 1382.1,843.6 1383.7,844.1 1385.3,844.2 1386.9,845.3 1388.4,843.8 1390.0,845.2 1391.6,843.8 1393.1,844.1 1394.7,844.9 1396.3,844.9 1397.9,844.1 1399.4,843.4 1401.0,844.2 1402.6,844.2 1404.2,844.0 1405.8,845.0 1407.4,843.6 1409.0,844.0 1410.6,844.9 1412.2,843.4 1413.7,844.0 1415.3,844.8 1416.9,844.7 1418.5,843.4 1420.1,843.4 1421.7,843.4 1423.3,844.2 1424.9,844.6 1426.5,843.1 1428.1,843.7 1429.6,843.7 1431.2,842.3 1432.8,841.9 1434.4,842.0 1436.0,842.7 1437.5,842.0 1439.1,841.3 1440.7,842.0 1442.3,841.2 1443.8,841.0 1445.4,841.3 1447.0,840.3 1448.5,841.6 1450.1,841.9 1451.7,841.3 1453.3,841.8 1454.8,840.1 1456.4,840.4 1458.0,840.7 1459.5,841.5 1461.1,841.5 1462.7,840.4 1464.3,840.1 1465.8,840.3 1467.4,840.4 1469.0,840.5 1470.5,841.3 1472.1,840.0 1473.7,841.2 1475.3,841.2 1476.8,841.4 1478.4,840.9 1480.0,841.6 1481.6,841.6 1483.2,841.3 1484.7,841.5 1486.3,841.9 1487.9,842.9 1489.5,842.6 1491.1,842.0 1492.7,842.3 1494.3,843.5 1495.9,842.7 1497.5,842.5 1499.0,842.6 1500.6,843.7 1502.2,843.5 1503.8,844.8 1505.4,844.7 1507.0,844.2 1508.6,845.0 1510.1,843.6 1511.7,843.2 1513.3,843.2 1514.9,843.8 1516.4,844.1 1518.0,843.7 1519.7,843.2 1521.3,842.4 1523.0,842.3 1524.7,842.0 1526.2,842.3 1527.7,842.4 1529.3,842.6 1530.8,842.8 1532.3,842.5 1533.8,841.6 1535.4,842.9 1536.9,842.0 1538.4,842.5 1539.9,842.2 1541.5,842.9 1543.0,842.0 1544.5,842.6 1546.1,842.1 1547.7,842.1 1549.2,842.0 1550.8,843.3 1552.4,842.7 1554.0,842.3 1555.5,842.4 1557.1,843.5 1558.7,842.6 1560.3,842.1 1561.9,843.2 1563.4,842.9 1565.0,843.5 1566.6,842.6 1568.2,842.0 1569.7,842.9 1571.3,843.6 1572.9,843.8 1574.5,844.1 1576.0,842.7 1577.6,843.7 1579.2,843.2 1580.8,842.8 1582.4,842.9 1583.9,844.2 1585.5,843.4 1587.1,844.0 1588.7,842.9 1590.3,843.7 1591.9,842.8 1593.5,842.4 1595.1,843.2 1596.6,843.5 1598.2,841.9 1599.8,842.7 1601.4,842.4 1603.0,842.7 1604.5,842.0 1606.1,842.3 1607.6,842.0 1609.2,842.1 1610.8,842.3 1612.3,842.9 1613.9,843.1 1615.4,842.3 1617.0,842.0 1618.5,842.7 1620.1,843.4 1621.7,842.5 1623.2,842.8 1624.8,842.7 1626.3,843.8 1627.9,843.3 1629.5,843.4 1631.0,842.5 1632.6,842.6 1634.2,843.1 1635.7,843.4 1637.3,843.6 1638.8,842.6 1640.4,842.7 1642.0,843.7 1643.5,843.1 1645.1,842.9 1646.7,843.0 1648.2,844.1 1649.8,843.0 1651.4,843.4 1652.9,843.0 1654.5,843.1 1656.0,844.0 1657.6,844.2 1659.2,843.1 1660.7,842.8 1662.3,843.3 1663.8,843.8 1665.4,842.8 1666.9,842.5 1668.4,844.2 1670.0,843.4 1671.5,844.1 1673.0,843.4 1674.6,844.3 1676.1,843.6 1677.6,843.1 1679.2,842.9 1680.7,843.9 1682.2,844.1 1683.7,844.6 1685.3,843.2 1686.8,844.2 1688.3,843.7 1689.9,844.0 1691.4,843.4 1692.9,843.7 1694.5,844.2 1696.0,844.9 1697.5,843.5 1699.1,844.2 1700.6,844.3 1702.2,844.5 1703.9,844.5 1705.5,842.9 1707.2,843.1 1708.7,842.4 1710.3,843.8 1711.8,843.8 1713.3,842.9 1714.9,842.1 1716.4,843.6 1717.9,842.6 1719.4,843.5 1721.0,842.9 1722.5,843.3 1724.0,842.0 1725.6,843.1 1727.1,842.0 1728.6,842.3 1730.2,843.1 1731.7,843.0 1733.2,841.8 1734.8,841.8 1736.3,842.1 1737.8,842.3 1739.3,842.0 1740.9,841.5 1742.4,841.7 1743.9,842.5 1745.5,842.8 1747.0,842.0 1748.6,840.6 1750.2,840.9 1751.9,840.7 1753.5,839.6 1755.2,838.6 1756.8,839.8 1758.5,838.3 1760.1,839.0 1761.8,838.7 1763.4,838.6 1765.0,837.9 1766.7,838.0 1768.2,837.5 1769.8,837.5 1771.3,836.9 1772.9,837.0 1774.5,836.3 1776.0,836.1 1777.5,836.5 1779.1,836.2 1780.6,837.8 1782.1,838.1 1783.7,838.1 1785.2,839.1" fill="none" stroke="#a8a8a8" stroke-width="1.1"/><text x="191.6" y="841" font-size="13" fill="#4a4a4a" text-anchor="middle">1986</text><text x="319.8" y="841" font-size="13" fill="#4a4a4a" text-anchor="middle">1989</text><text x="448.0" y="841" font-size="13" fill="#4a4a4a" text-anchor="middle">1992</text><text x="576.2" y="841" font-size="13" fill="#4a4a4a" text-anchor="middle">1995</text><text x="704.4" y="841" font-size="13" fill="#4a4a4a" text-anchor="middle">1998</text><text x="832.6" y="841" font-size="13" fill="#4a4a4a" text-anchor="middle">2001</text><text x="960.8" y="841" font-size="13" fill="#4a4a4a" text-anchor="middle">2004</text><text x="1089.0" y="841" font-size="13" fill="#4a4a4a" text-anchor="middle">2007</text><text x="1217.2" y="841" font-size="13" fill="#4a4a4a" text-anchor="middle">2010</text><text x="1345.4" y="841" font-size="13" fill="#4a4a4a" text-anchor="middle">2013</text><text x="1473.6" y="841" font-size="13" fill="#4a4a4a" text-anchor="middle">2016</text><text x="1601.8" y="841" font-size="13" fill="#4a4a4a" text-anchor="middle">2019</text><text x="1730.0" y="841" font-size="13" fill="#4a4a4a" text-anchor="middle">2022</text><rect x="58" y="813" width="1727" height="2" fill="#3a3a3a"/><rect x="1785.5" y="813.5" width="8" height="32" fill="#ededed" stroke="#8e9ab3" stroke-width="1"/><rect x="1796.5" y="813.5" width="8" height="32" fill="#ededed" stroke="#8e9ab3" stroke-width="1"/><rect x="1793.5" y="813" width="3" height="33" fill="#9a9a9a"/><rect x="1793.5" y="813" width="0.7" height="33" fill="#555"/><rect x="1795.8" y="813" width="0.7" height="33" fill="#555"/></svg>
</body></html>
